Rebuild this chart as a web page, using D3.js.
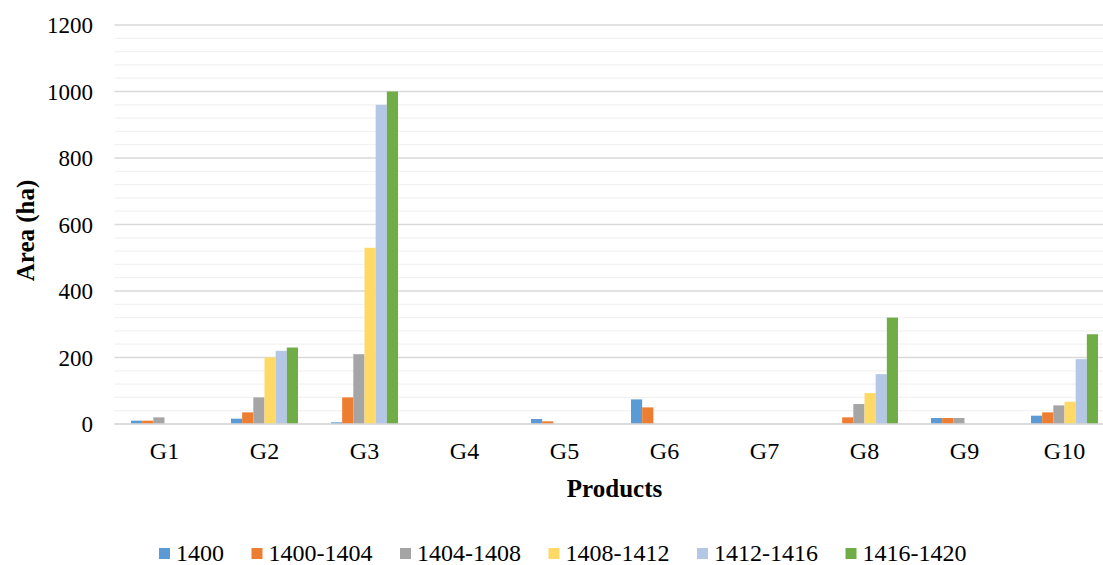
<!DOCTYPE html>
<html>
<head>
<meta charset="utf-8">
<script src="https://cdn.jsdelivr.net/npm/d3@7"></script>
<style>
  body { margin: 0; background: #fff; }
</style>
</head>
<body>
<div id="chart"></div>
<script>
// data
const products = ["G1", "G2", "G3", "G4", "G5", "G6", "G7", "G8", "G9", "G10"]
const periods = ["1400", "1400-1404", "1404-1408", "1408-1412", "1412-1416", "1416-1420"]
const s1400      = [10, 16, 5, 0, 15, 74, 0, 0, 18, 25]
const s1400_1404 = [10, 35, 80, 0, 8, 50, 0, 20, 18, 35]
const s1404_1408 = [20, 80, 210, 0, 0, 0, 0, 60, 18, 56]
const s1408_1412 = [0, 200, 530, 0, 0, 0, 0, 93, 0, 67]
const s1412_1416 = [0, 220, 960, 0, 0, 0, 0, 150, 0, 195]
const s1416_1420 = [0, 230, 1000, 0, 0, 0, 0, 320, 0, 270]
const yTicks = [0, 200, 400, 600, 800, 1000, 1200]

const series = [s1400, s1400_1404, s1404_1408, s1408_1412, s1412_1416, s1416_1420]
const colors = ["#5B9BD5", "#ED7D31", "#A5A5A5", "#FFD966", "#B4C7E7", "#70AD47"]

// layout
const width = 1103, height = 565
const plot = {left: 114.5, right: 1114.5, top: 25, bottom: 424}
const font = "'Liberation Serif', 'Times New Roman', 'DejaVu Serif', serif"

const svg = d3.select("#chart").append("svg")
  .attr("width", width)
  .attr("height", height)
  .attr("font-family", font)

const x = d3.scaleBand()
  .domain(products)
  .range([plot.left, plot.right])
  .padding(0)

const xInner = d3.scaleBand()
  .domain(periods)
  .range([-33.5, 33.5])
  .padding(0)

const y = d3.scaleLinear()
  .domain([0, 1200])
  .range([plot.bottom, plot.top])

// gridlines: minor every 40, major every 200
const minor = d3.range(40, 1201, 40).filter(v => v % 200 !== 0)
svg.append("g").selectAll("line")
  .data(minor)
  .join("line")
    .attr("x1", plot.left)
    .attr("x2", width)
    .attr("y1", d => y(d))
    .attr("y2", d => y(d))
    .attr("stroke", "#F2F2F2")
    .attr("stroke-width", 1.3)

svg.append("g").selectAll("line")
  .data(yTicks)
  .join("line")
    .attr("x1", plot.left)
    .attr("x2", width)
    .attr("y1", d => y(d))
    .attr("y2", d => y(d))
    .attr("stroke", "#D9D9D9")
    .attr("stroke-width", 1.3)

// y tick labels
svg.append("g").selectAll("text")
  .data(yTicks)
  .join("text")
    .attr("x", 93)
    .attr("y", d => y(d) + 8)
    .attr("text-anchor", "end")
    .attr("font-size", 23)
    .attr("font-family", font)
    .text(d => d)

// bars
const groups = svg.append("g").selectAll("g")
  .data(products)
  .join("g")
    .attr("transform", d => "translate(" + (x(d) + x.bandwidth() / 2) + ",0)")

groups.selectAll("rect")
  .data((d, i) => series.map((s, k) => ({period: periods[k], value: s[i], color: colors[k]})))
  .join("rect")
    .filter(d => d.value > 0)
    .attr("x", d => xInner(d.period))
    .attr("width", xInner.bandwidth())
    .attr("y", d => y(d.value))
    .attr("height", d => y(0) - y(d.value))
    .attr("fill", d => d.color)

// baseline on top
svg.append("line")
  .attr("x1", plot.left)
  .attr("x2", width)
  .attr("y1", y(0))
  .attr("y2", y(0))
  .attr("stroke", "#D9D9D9")
  .attr("stroke-width", 1.3)

// category labels
svg.append("g").selectAll("text")
  .data(products)
  .join("text")
    .attr("x", d => x(d) + x.bandwidth() / 2)
    .attr("y", 459)
    .attr("text-anchor", "middle")
    .attr("font-size", 24)
    .attr("font-family", font)
    .text(d => d)

// axis titles
svg.append("text")
  .attr("x", (plot.left + plot.right) / 2)
  .attr("y", 497)
  .attr("text-anchor", "middle")
  .attr("font-size", 25)
  .attr("font-weight", "bold")
  .attr("font-family", font)
  .text("Products")

svg.append("text")
  .attr("transform", "translate(34," + ((plot.top + plot.bottom) / 2 + 6) + ") rotate(-90)")
  .attr("text-anchor", "middle")
  .attr("font-size", 25)
  .attr("font-weight", "bold")
  .attr("font-family", font)
  .text("Area (ha)")

// legend
const legend = svg.append("g")
let lx = 159
periods.forEach((p, k) => {
  legend.append("rect")
    .attr("x", lx)
    .attr("y", 548)
    .attr("width", 11)
    .attr("height", 11)
    .attr("fill", colors[k])
  const t = legend.append("text")
    .attr("x", lx + 17)
    .attr("y", 561)
    .attr("font-size", 24)
    .attr("font-family", font)
    .text(p)
  lx += 17 + t.node().getComputedTextLength() + 27.5
})
</script>
</body>
</html>
